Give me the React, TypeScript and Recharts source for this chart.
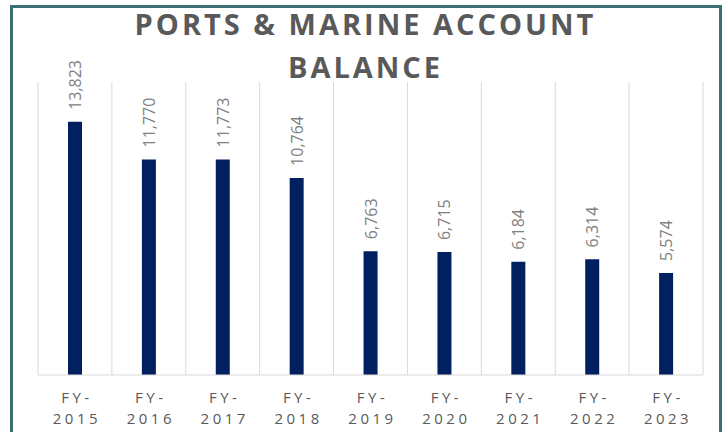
import { Bar, BarChart, CartesianGrid, LabelList, XAxis, YAxis } from 'recharts'

const years = ['2015', '2016', '2017', '2018', '2019', '2020', '2021', '2022', '2023']
const balances = [13823, 11770, 11773, 10764, 6763, 6715, 6184, 6314, 5574]
const titleLines = ['PORTS & MARINE ACCOUNT', 'BALANCE']

const chartData = years.map((year, index) => ({
  name: year,
  total: balances[index],
}))

const GRAY = '#595959'

function YearTick(props: any) {
  const { x, y, payload } = props
  return (
    <text
      x={x}
      y={y}
      textAnchor="middle"
      fill={GRAY}
      fontFamily="Open Sans"
      fontSize={15}
      letterSpacing={3.5}
    >
      <tspan x={x + 2} dy={20}>
        FY-
      </tspan>
      <tspan x={x + 2} dy={21}>
        {payload.value}
      </tspan>
    </text>
  )
}

function ValueLabel(props: any) {
  const { x, y, width, value } = props
  const cx = x + width / 2
  const ty = y - 12
  return (
    <text
      x={cx}
      y={ty}
      transform={`rotate(-90 ${cx} ${ty})`}
      textAnchor="start"
      dominantBaseline="central"
      fill="#808080"
      fontFamily="Open Sans"
      fontSize={16}
    >
      {value.toLocaleString('en-US')}
    </text>
  )
}

export default function App() {
  return (
    <div
      style={{
        position: 'absolute',
        left: 0,
        top: 0,
        width: 728,
        height: 432,
        overflow: 'hidden',
        background: '#fff',
      }}
    >
      <div
        style={{
          position: 'absolute',
          left: 0,
          top: 2,
          width: 728,
          textAlign: 'center',
          fontFamily: 'Open Sans',
          fontWeight: 700,
          fontSize: 29,
          lineHeight: '43px',
          letterSpacing: 3,
          paddingLeft: 3,
          boxSizing: 'border-box',
          color: GRAY,
        }}
      >
        {titleLines.map((line) => (
          <div key={line}>{line}</div>
        ))}
      </div>
      <div style={{ position: 'absolute', left: 0, top: 0 }}>
        <BarChart
          width={728}
          height={432}
          data={chartData}
          margin={{ top: 82, right: 25, bottom: 0, left: 38 }}
        >
          <CartesianGrid
            horizontal={false}
            stroke="#d9d9d9"
            verticalCoordinatesGenerator={({ offset }: any) =>
              Array.from(
                { length: years.length + 1 },
                (_, i) => offset.left + (i * offset.width) / years.length
              )
            }
          />
          <XAxis
            dataKey="name"
            height={57}
            axisLine={{ stroke: '#d9d9d9' }}
            tickLine={false}
            interval={0}
            tick={<YearTick />}
          />
          <YAxis hide domain={[0, 16000]} />
          <Bar dataKey="total" fill="#002060" barSize={14} isAnimationActive={false}>
            <LabelList dataKey="total" content={<ValueLabel />} />
          </Bar>
        </BarChart>
      </div>
      <div
        style={{
          position: 'absolute',
          left: 10,
          top: 5,
          width: 712,
          height: 470,
          border: '3px solid #3e6e6f',
          boxSizing: 'border-box',
          pointerEvents: 'none',
        }}
      />
    </div>
  )
}
